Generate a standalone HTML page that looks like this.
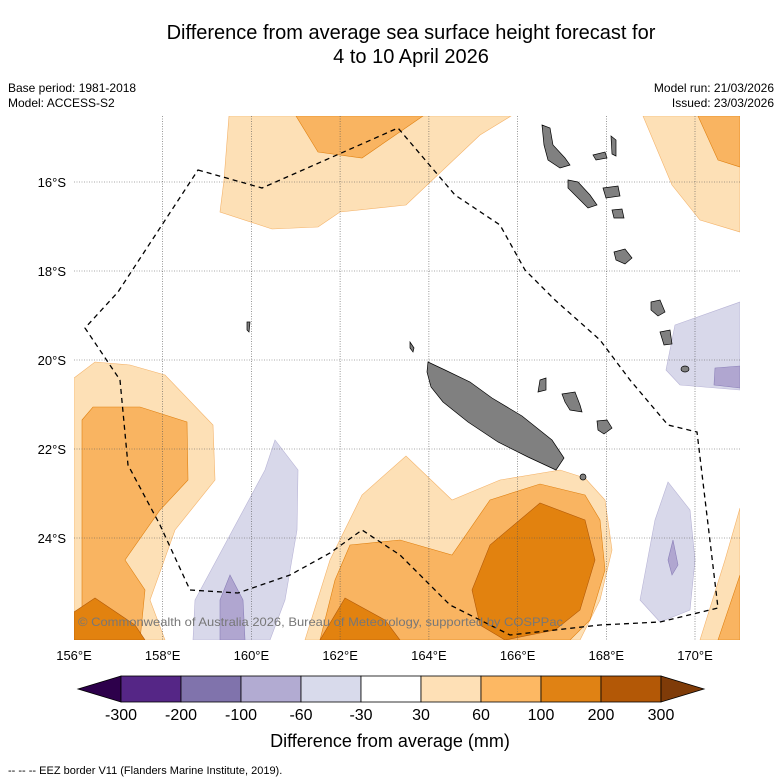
<!DOCTYPE html>
<html><head><meta charset="utf-8">
<style>
body{margin:0;background:#fff;font-family:"Liberation Sans",sans-serif;}
svg{display:block}
</style></head>
<body>
<svg id="chart" width="781" height="781" viewBox="0 0 781 781">
<rect width="781" height="781" fill="#fff"/>
<text x="411" y="39" text-anchor="middle" font-size="20">Difference from average sea surface height forecast for</text>
<text x="411" y="63" text-anchor="middle" font-size="20">4 to 10 April 2026</text>
<text x="8" y="92" font-size="12">Base period: 1981-2018</text>
<text x="8" y="107" font-size="12">Model: ACCESS-S2</text>
<text x="774" y="92" font-size="12" text-anchor="end">Model run: 21/03/2026</text>
<text x="774" y="107" font-size="12" text-anchor="end">Issued: 23/03/2026</text>
<defs><clipPath id="mc"><rect x="74" y="116" width="666" height="524"/></clipPath></defs>
<g clip-path="url(#mc)">
<g stroke-width="0.6">
<path fill="#fde0b6" stroke="#f4b36a" d="M229,116L511,116L480,135L406,205L340,212L318,227L272,229L220,212L224,180Z"/>
<path fill="#f9b461" stroke="#e08010" d="M296,116L423,116L362,158L318,152Z"/>
<path fill="#fde0b6" stroke="#f4b36a" d="M643,116L740,116L740,232L700,220L672,185Z"/>
<path fill="#f9b461" stroke="#e08010" d="M698,116L740,116L740,167L718,160Z"/>
<path fill="#d8d8ea" stroke="#b8b4d6" d="M675,325L740,302L740,390L680,385L666,370Z"/>
<path fill="#b0a6d0" stroke="#8a7fb8" d="M715,368L740,366L740,388L714,385Z"/>
<path fill="#fde0b6" stroke="#f4b36a" d="M74,378L95,362L130,365L165,375L213,425L215,480L175,530L150,600L165,640L74,640Z"/>
<path fill="#f9b461" stroke="#e08010" d="M82,420L93,407L140,407L187,422L188,480L160,510L125,560L145,590L140,640L82,640Z"/>
<path fill="#e2820f" stroke="#b35a08" d="M74,612L95,598L135,625L145,640L74,640Z"/>
<path fill="#d8d8ea" stroke="#b8b4d6" d="M195,600L230,535L265,470L275,440L298,470L297,530L285,600L270,640L193,640Z"/>
<path fill="#b0a6d0" stroke="#8a7fb8" d="M220,600L230,575L243,600L245,640L220,640Z"/>
<path fill="#fde0b6" stroke="#f4b36a" d="M305,640L330,560L362,495L406,456L452,500L500,480L560,470L585,478L605,500L612,550L600,600L580,640Z"/>
<path fill="#f9b461" stroke="#e08010" d="M320,640L335,580L350,545L400,540L452,555L490,500L540,484L585,495L600,520L605,570L590,620L570,640Z"/>
<path fill="#e2820f" stroke="#b35a08" d="M320,640L345,598L385,620L400,640Z"/>
<path fill="#e2820f" stroke="#b35a08" d="M472,590L490,545L540,503L585,520L595,560L580,610L555,630L505,640L480,625Z"/>
<path fill="#d8d8ea" stroke="#b8b4d6" d="M640,600L655,520L668,482L690,510L695,560L690,610L660,622Z"/>
<path fill="#b0a6d0" stroke="#8a7fb8" d="M668,560L673,540L678,565L672,575Z"/>
<path fill="#fde0b6" stroke="#f4b36a" d="M700,640L725,560L740,508L740,640Z"/>
<path fill="#f9b461" stroke="#e08010" d="M718,640L740,575L740,640Z"/>
</g>
<g stroke="#555" stroke-width="0.6" stroke-dasharray="1,1.5">
<line x1="162.7" y1="116" x2="162.7" y2="640"/><line x1="251.4" y1="116" x2="251.4" y2="640"/>
<line x1="340.1" y1="116" x2="340.1" y2="640"/><line x1="428.9" y1="116" x2="428.9" y2="640"/>
<line x1="517.6" y1="116" x2="517.6" y2="640"/><line x1="606.3" y1="116" x2="606.3" y2="640"/>
<line x1="695" y1="116" x2="695" y2="640"/>
<line x1="74" y1="182" x2="740" y2="182"/><line x1="74" y1="271" x2="740" y2="271"/>
<line x1="74" y1="360" x2="740" y2="360"/><line x1="74" y1="449" x2="740" y2="449"/>
<line x1="74" y1="538" x2="740" y2="538"/>
</g>
<g fill="#808080" stroke="#000" stroke-width="0.7">
<path d="M428,362L445,370L470,382L492,398L522,416L552,440L564,458L556,470L528,457L498,442L468,422L443,402L431,387L427,372Z"/>
<path d="M542,125L550,128L553,145L565,158L570,165L560,168L548,160L544,145Z"/>
<path d="M568,180L578,182L590,195L597,205L588,208L580,200L568,188Z"/>
<path d="M593,155L605,152L607,158L596,160Z"/>
<path d="M603,188L618,186L620,196L606,198Z"/>
<path d="M611,136L616,140L616,156L612,154Z"/>
<path d="M612,210L622,209L624,218L614,218Z"/>
<path d="M614,252L625,249L632,258L625,264L616,260Z"/>
<path d="M651,302L660,300L665,312L658,316L651,310Z"/>
<path d="M660,332L670,330L672,344L664,345Z"/>
<path d="M540,380L546,378L546,390L538,392Z"/>
<path d="M562,394L575,392L580,405L582,412L570,410L565,402Z"/>
<path d="M597,421L607,420L612,428L604,434L598,430Z"/>
<path d="M410,342L414,348L413,352L410,348Z"/>
<path d="M247,322L250,322L249,332L247,330Z"/>
<ellipse cx="685" cy="369" rx="4" ry="3"/>
<ellipse cx="583" cy="477" rx="3" ry="3"/>
</g>
<path fill="none" stroke="#000" stroke-width="1.3" stroke-dasharray="5,4" d="M198,170L262,188L398,128L455,195L500,225L525,270L555,300L600,340L630,380L668,425L697,432L718,608L660,622L600,625L510,635L450,605L400,555L362,530L330,553L290,575L238,593L190,590L160,525L128,465L120,380L85,328L118,292Z"/>
<text x="78" y="626" font-size="12" fill="#777" textLength="485" lengthAdjust="spacingAndGlyphs">© Commonwealth of Australia 2026, Bureau of Meteorology, supported by COSPPac</text>
</g>
<g font-size="13" text-anchor="end">
<text x="66" y="187">16°S</text><text x="66" y="276">18°S</text><text x="66" y="365">20°S</text><text x="66" y="454">22°S</text><text x="66" y="543">24°S</text>
</g>
<g font-size="13" text-anchor="middle">
<text x="74" y="660">156°E</text><text x="162.7" y="660">158°E</text><text x="251.4" y="660">160°E</text><text x="340.1" y="660">162°E</text><text x="428.9" y="660">164°E</text><text x="517.6" y="660">166°E</text><text x="606.3" y="660">168°E</text><text x="695" y="660">170°E</text>
</g>
<g id="cbar"></g>
<text x="390" y="747" font-size="18" text-anchor="middle">Difference from average (mm)</text>
<text x="8" y="774" font-size="11">--  --  -- EEZ border V11 (Flanders Marine Institute, 2019).</text>
</svg>
<script>
const bins = ["-300","-200","-100","-60","-30","30","60","100","200","300"];
const binColors = ["#552686","#8073ac","#b2abd2","#d8daeb","#ffffff","#fee0b6","#fdb863","#e08214","#b35806"];
const ns="http://www.w3.org/2000/svg";
const g=document.getElementById('cbar');
const x0=121, w=60, y0=676, h=26;
function mk(t,a){const e=document.createElementNS(ns,t);for(const k in a)e.setAttribute(k,a[k]);return e;}
const lt=mk('polygon',{points:`78,689 ${x0},${y0} ${x0},${y0+h}`,fill:'#2d004b',stroke:'#000','stroke-width':0.8});


g.appendChild(lt);
binColors.forEach((c,i)=>{
  const r=mk('rect',{x:x0+i*w,y:y0,width:w,height:h,fill:c,stroke:'#000','stroke-width':0.8});
  
  
  g.appendChild(r);
});
const xe=x0+binColors.length*w;
const rt=mk('polygon',{points:`${xe},${y0} ${xe+43},689 ${xe},${y0+h}`,fill:'#7f3b08',stroke:'#000','stroke-width':0.8});


g.appendChild(rt);
bins.forEach((b,i)=>{
  const t=mk('text',{x:x0+i*w,y:720,'font-size':16,'text-anchor':'middle'});
  t.textContent=b;
  
  
  g.appendChild(t);
});
</script>
</body></html>
